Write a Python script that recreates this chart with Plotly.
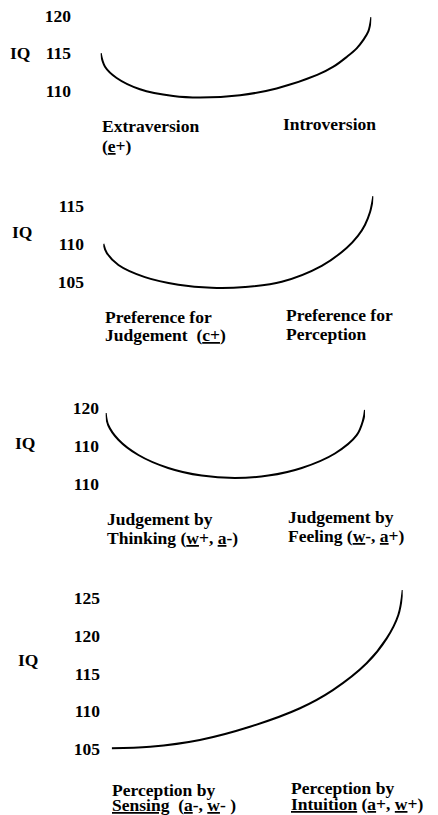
import plotly.graph_objects as go

# ---------------- data ----------------
y_title = "IQ"

# position along each continuum (0 = left pole, 100 = right pole) and IQ
p1_x = [0, 1.6, 5.9, 14.5, 26.8, 36.7, 51.5, 65.0, 80.0, 86.0, 90.9, 94.6, 97.0, 98.9, 100]
p1_iq = [115.0, 113.2, 111.7, 110.2, 109.3, 109.1, 109.4, 110.3, 112.1, 113.2, 114.5, 115.65, 116.75, 117.9, 119.8]
p1_tickvals = [110, 115, 120]
p1_ticktext = ["110", "115", "120"]
p1_left = ["Extraversion", "(<u>e</u>+)"]
p1_right = ["Introversion"]

p2_x = [0, 1.3, 5.6, 15.4, 27.8, 40.1, 52.5, 66.1, 80.9, 90.1, 94.3, 96.9, 98.8, 100]
p2_iq = [110.0, 108.8, 107.2, 105.6, 104.6, 104.2, 104.3, 105.0, 107.1, 109.45, 111.05, 112.5, 114.2, 116.3]
p2_tickvals = [105, 110, 115]
p2_ticktext = ["105", "110", "115"]
p2_left = ["Preference for", "Judgement\u00a0 (<u>c+</u>)"]
p2_right = ["Preference for", "Perception"]

p3_x = [0, 1.0, 4.9, 12.6, 24.1, 37.0, 49.8, 62.7, 75.6, 88.4, 96.8, 99.3, 100]
p3_iq = [119.3, 117.7, 115.8, 113.8, 112.1, 111.1, 110.8, 111.1, 112.1, 114.0, 116.4, 118.4, 119.7]
p3_tickvals = [110, 115, 120]
p3_ticktext = ["110", "110", "120"]
p3_left = ["Judgement by", "Thinking (<u>w</u>+, <u>a</u>-)"]
p3_right = ["Judgement by", "Feeling (<u>w</u>-, <u>a</u>+)"]

p4_x = [0, 13.2, 30.3, 47.5, 64.7, 76.0, 87.6, 94.5, 98.5, 100]
p4_iq = [105.1, 105.3, 106.2, 107.95, 110.4, 112.8, 116.35, 119.65, 122.75, 126.05]
p4_tickvals = [105, 110, 115, 120, 125]
p4_ticktext = ["105", "110", "115", "120", "125"]
p4_left = ["Perception by", "<u>Sensing</u>\u00a0 (<u>a</u>-, <u>w</u>-\u00a0)"]
p4_right = ["Perception by", "<u>Intuition</u> (<u>a</u>+, <u>w</u>+)"]

# ---------------- layout constants (pixels of the 438x815 page) ----------------
PAGE_W, PAGE_H = 438, 815
OFF = 8                      # default body margin of the html page
W, H = PAGE_W - OFF, PAGE_H - OFF
FONT = "Liberation Serif"
FS = 17.5
ANN_PAD = 2                  # annotation inner padding


def px_x(px):
    return (px - OFF) / W


def px_y(py):
    return 1 - (py - OFF) / H


panels = [
    dict(x=p1_x, y=p1_iq, tv=p1_tickvals, tt=p1_ticktext,
         ref=(15.7, 120, 90.7, 110), dom=(8, 112), axis_x=71, span=(100.7, 371.3),
         iq=(10, 53), left=p1_left, right=p1_right,
         lpos=(102, [126, 146]), rpos=(283, [124])),
    dict(x=p2_x, y=p2_iq, tv=p2_tickvals, tt=p2_ticktext,
         ref=(206.0, 115, 281.7, 105), dom=(185, 300), axis_x=84, span=(103.3, 373.3),
         iq=(12, 232), left=p2_left, right=p2_right,
         lpos=(105, [317, 335]), rpos=(286, [315, 334])),
    dict(x=p3_x, y=p3_iq, tv=p3_tickvals, tt=p3_ticktext,
         ref=(407.7, 120, 484.0, 110), dom=(392, 498), axis_x=99, span=(105.7, 365.0),
         iq=(15, 443), left=p3_left, right=p3_right,
         lpos=(107, [519, 538]), rpos=(288, [517, 536])),
    dict(x=p4_x, y=p4_iq, tv=p4_tickvals, tt=p4_ticktext,
         ref=(598.0, 125, 749.0, 105), dom=(580, 765), axis_x=100, span=(111.7, 402.7),
         iq=(18, 660), left=p4_left, right=p4_right,
         lpos=(112, [790, 805]), rpos=(291, [788, 804])),
]

fig = go.Figure()
layout = dict(
    width=W, height=H,
    margin=dict(l=0, r=0, t=0, b=0),
    paper_bgcolor="white", plot_bgcolor="rgba(0,0,0,0)",
    showlegend=False,
    font=dict(family=FONT, size=FS, color="black"),
    template="none",
)
annotations = []


def label(txt, x, y):
    return dict(
        text="<b>" + txt + "</b>", xref="paper", yref="paper",
        x=px_x(x - ANN_PAD), y=px_y(y), xanchor="left", yanchor="middle",
        showarrow=False, font=dict(family=FONT, size=FS, color="black"),
    )


for i, p in enumerate(panels):
    n = "" if i == 0 else str(i + 1)
    fig.add_trace(go.Scatter(
        x=p["x"], y=p["y"], mode="lines",
        line=dict(color="black", width=2, shape="spline", smoothing=1.0),
        xaxis="x" + n, yaxis="y" + n, hoverinfo="skip",
    ))
    pa, va, pb, vb = p["ref"]
    upp = (va - vb) / (pb - pa)
    top_px, bot_px = p["dom"]
    top_val = va + (pa - top_px) * upp
    bot_val = vb - (bot_px - pb) * upp
    layout["xaxis" + n] = dict(
        domain=[px_x(p["span"][0]), px_x(p["span"][1])], range=[0, 100],
        anchor="y" + n, visible=False, fixedrange=True,
    )
    layout["yaxis" + n] = dict(
        domain=[px_y(bot_px), px_y(top_px)], range=[bot_val, top_val],
        anchor="free", position=px_x(p["axis_x"]),
        tickmode="array", tickvals=p["tv"], ticktext=["<b>" + t + "</b>" for t in p["tt"]],
        showgrid=False, zeroline=False, showline=False, ticks="",
        automargin=False, fixedrange=True, ticklabeloverflow="allow",
        tickfont=dict(family=FONT, size=FS, color="black"),
    )
    annotations.append(label(y_title, p["iq"][0], p["iq"][1]))
    for txt, yy in zip(p["left"], p["lpos"][1]):
        annotations.append(label(txt, p["lpos"][0], yy))
    for txt, yy in zip(p["right"], p["rpos"][1]):
        annotations.append(label(txt, p["rpos"][0], yy))

layout["annotations"] = annotations
fig.update_layout(**layout)

fig.write_html("out.html", config={"displayModeBar": False})
